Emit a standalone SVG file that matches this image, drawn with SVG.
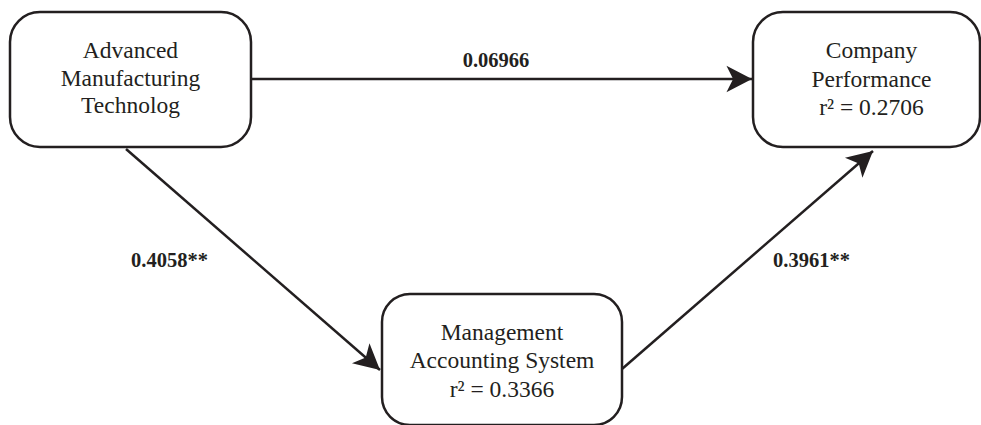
<svg xmlns="http://www.w3.org/2000/svg" width="981" height="425" viewBox="0 0 981 425">
  <style>
    .box { fill: #ffffff; stroke: #231f20; stroke-width: 2.5; }
    .node-text { font-family: "Liberation Serif", "Times New Roman", serif; font-size: 23.5px; fill: #231f20; text-anchor: middle; }
    .edge { stroke: #231f20; stroke-width: 2.5; fill: none; marker-end: url(#arrow); }
    .edge-label { font-family: "Liberation Serif", "Times New Roman", serif; font-size: 20.5px; font-weight: bold; fill: #231f20; }
  </style>
  <defs>
    <marker id="arrow" markerUnits="userSpaceOnUse" markerWidth="30" markerHeight="30" viewBox="-25 -13 27 26" refX="0" refY="0" orient="auto">
      <path d="M0,0 L-23,-12 L-17,0 L-23,12 Z" fill="#231f20"/>
    </marker>
  </defs>
  <rect width="981" height="425" fill="#ffffff"/>
  <g id="connectors">
    <line class="edge" x1="251" y1="79" x2="752" y2="79"/>
    <line class="edge" x1="126" y1="149" x2="380" y2="370"/>
    <line class="edge" x1="622" y1="369" x2="873" y2="151"/>
    <text class="edge-label" x="496" y="67" text-anchor="middle">0.06966</text>
    <text class="edge-label" x="131" y="267">0.4058**</text>
    <text class="edge-label" x="773" y="267">0.3961**</text>
  </g>
  <g id="node-amt">
    <rect class="box" x="10" y="12" width="241" height="135" rx="30" ry="30"/>
    <text class="node-text" x="130.5" y="58">Advanced</text>
    <text class="node-text" x="130.5" y="85.5">Manufacturing</text>
    <text class="node-text" x="130.5" y="113">Technolog</text>
  </g>
  <g id="node-cp">
    <rect class="box" x="753" y="12" width="227" height="135" rx="30" ry="30"/>
    <text class="node-text" x="871.5" y="58">Company</text>
    <text class="node-text" x="871.5" y="86.5">Performance</text>
    <text class="node-text" x="871.5" y="115">r² = 0.2706</text>
  </g>
  <g id="node-mas">
    <rect class="box" x="382" y="294" width="240" height="131" rx="28" ry="28"/>
    <text class="node-text" x="502" y="340">Management</text>
    <text class="node-text" x="502" y="368">Accounting System</text>
    <text class="node-text" x="502" y="397">r² = 0.3366</text>
  </g>
</svg>
